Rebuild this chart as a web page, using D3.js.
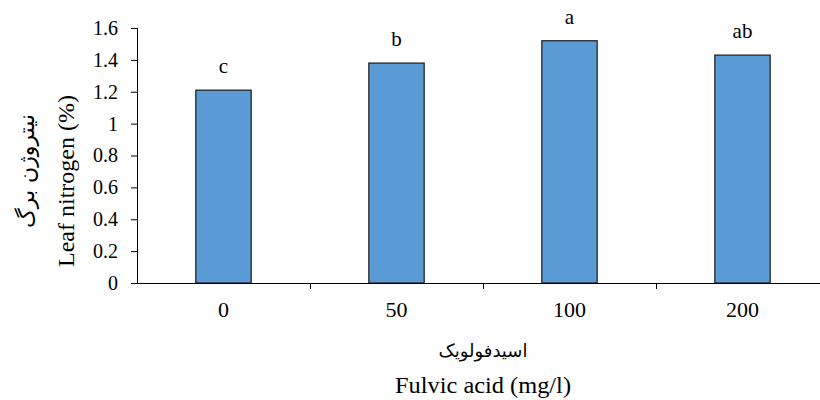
<!DOCTYPE html>
<html>
<head>
<meta charset="utf-8">
<script src="https://cdn.jsdelivr.net/npm/d3@7"></script>
<style>
  body { margin: 0; background: #fff; }
  svg { display: block; }
</style>
</head>
<body>
<div id="chart"></div>
<script>
// data
const doses = ["0", "50", "100", "200"];
const nitrogen = [1.21, 1.38, 1.52, 1.43];
const groups = ["c", "b", "a", "ab"];
const yTicks = [0, 0.2, 0.4, 0.6, 0.8, 1, 1.2, 1.4, 1.6];

const SERIF = "'Liberation Serif', 'Times New Roman', serif";
const FA = "'DejaVu Sans', sans-serif";

const width = 820;
const height = 400;
const margin = { top: 28, right: -9, bottom: 117, left: 137 };

const svg = d3.select("#chart")
  .append("svg")
  .attr("width", width)
  .attr("height", height);

const x = d3.scaleBand()
  .domain(doses)
  .range([margin.left, width - margin.right]);

const y = d3.scaleLinear()
  .domain([0, 1.6])
  .range([height - margin.bottom, margin.top]);

const barW = x.bandwidth() * 0.32;

//bars
svg.append("g")
  .selectAll("rect")
  .data(nitrogen)
  .join("rect")
  .attr("x", (d, i) => x(doses[i]) + (x.bandwidth() - barW) / 2)
  .attr("y", (d) => y(d))
  .attr("width", barW)
  .attr("height", (d) => y(0) - y(d))
  .attr("fill", "#5B9BD5")
  .attr("stroke", "#1a1a1a")
  .attr("stroke-width", 1.2);

//letters
svg.append("g")
  .selectAll("text")
  .data(groups)
  .join("text")
  .attr("font-family", SERIF)
  .attr("x", (d, i) => x(doses[i]) + x.bandwidth() / 2)
  .attr("y", (d, i) => y(nitrogen[i]) - 17)
  .attr("text-anchor", "middle")
  .attr("font-size", 21)
  .text((d) => d);

//y axis
const yAxis = svg.append("g")
  .attr("transform", `translate(${margin.left},0)`)
  .call(d3.axisLeft(y).tickValues(yTicks).tickSize(6).tickPadding(13).tickFormat(d3.format("~g")));
yAxis.attr("font-family", SERIF).attr("font-size", 20);
yAxis.select(".domain").attr("stroke", "#000").attr("d", `M0.5,${y(1.6)}V${y(0)}`);
yAxis.selectAll(".tick line").attr("stroke", "#000");
yAxis.selectAll(".tick text").attr("fill", "#000");

//x axis
const xAxis = svg.append("g")
  .attr("transform", `translate(0,${y(0)})`)
  .call(d3.axisBottom(x).tickSize(0).tickPadding(18));
xAxis.attr("font-family", SERIF).attr("font-size", 22);
xAxis.select(".domain").attr("stroke", "#000").attr("d", `M${margin.left - 6},0.5H${width - margin.right}`);
xAxis.selectAll(".tick text").attr("fill", "#000");
xAxis.selectAll("line.sep")
  .data(doses.slice(1))
  .join("line")
  .attr("class", "sep")
  .attr("x1", (d) => x(d) + 0.5)
  .attr("x2", (d) => x(d) + 0.5)
  .attr("y1", 0)
  .attr("y2", 6)
  .attr("stroke", "#000");

//axis titles
svg.append("text")
  .attr("font-family", FA)
  .attr("text-anchor", "middle")
  .attr("font-size", 22)
  .attr("transform", `translate(34,171) rotate(-90)`)
  .text("نیتروژن برگ");

svg.append("text")
  .attr("font-family", SERIF)
  .attr("text-anchor", "middle")
  .attr("font-size", 23)
  .attr("textLength", 172)
  .attr("lengthAdjust", "spacingAndGlyphs")
  .attr("transform", `translate(74,181) rotate(-90)`)
  .text("Leaf nitrogen (%)");

svg.append("text")
  .attr("font-family", FA)
  .attr("text-anchor", "middle")
  .attr("font-size", 18)
  .attr("x", 483)
  .attr("y", 357)
  .text("اسیدفولویک");

svg.append("text")
  .attr("font-family", SERIF)
  .attr("text-anchor", "middle")
  .attr("font-size", 23)
  .attr("textLength", 176)
  .attr("lengthAdjust", "spacingAndGlyphs")
  .attr("x", 483)
  .attr("y", 393)
  .text("Fulvic acid (mg/l)");
</script>
</body>
</html>
